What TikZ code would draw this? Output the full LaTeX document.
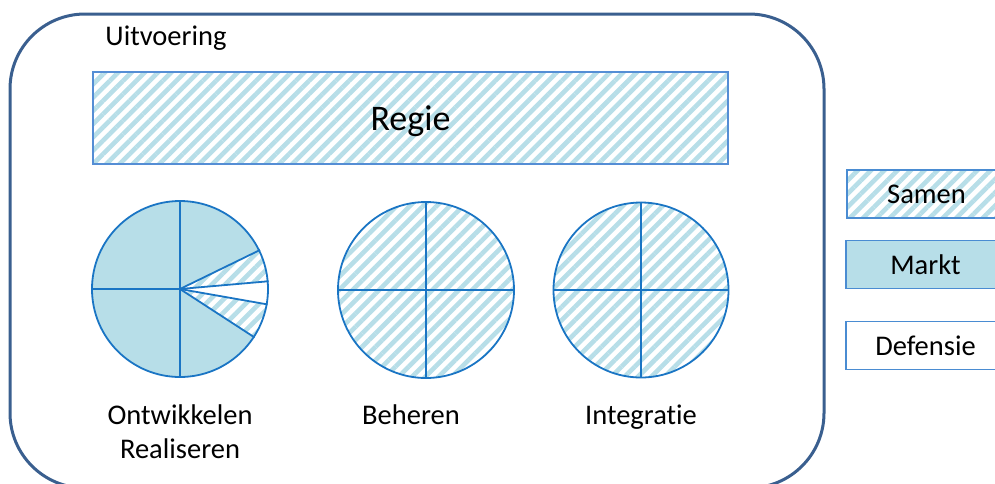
\documentclass[tikz,border=0pt]{standalone}
\usepackage{fontspec}
\setmainfont{Carlito}[Ligatures=NoCommon]
\usetikzlibrary{patterns.meta}
\definecolor{outerblue}{HTML}{3A5F8F}
\definecolor{regieblue}{HTML}{558ED5}
\definecolor{pieblue}{HTML}{1A75C4}
\definecolor{legblue}{HTML}{4A8CD2}
\definecolor{lightfill}{HTML}{B7DEE8}
\tikzset{
  hatch/.style={pattern={Lines[angle=45,distance=9.4pt,line width=4.6pt]}, pattern color=lightfill},
  lbl/.style={font=\fontsize{28.5}{34}\selectfont, align=center, inner sep=0pt},
  piecircle/.style={circle, draw=pieblue, line width=1.8pt, inner sep=0pt, minimum size=#1},
  pieline/.style={draw=pieblue, line width=1.8pt},
  legbox/.style={draw=legblue, line width=1.8pt, minimum width=159pt, minimum height=48pt, inner sep=0pt, font=\fontsize{28.5}{34}\selectfont},
}
\begin{document}
\begin{tikzpicture}[x=1pt,y=-1pt]
\useasboundingbox (0,0) rectangle (995,483);
% outer container
\draw[draw=outerblue, line width=3pt, rounded corners=75pt] (10,14) rectangle (824,488);
\node[lbl] (uitv) at (166,38) {Uitvoering};
% Regie
\node[draw=regieblue, line width=2pt, hatch, minimum width=635pt, minimum height=92pt, inner sep=0pt] (regie) at (410.5,118) {};
\node[inner sep=0pt, font=\fontsize{36}{40}\selectfont] (regietxt) at (410.5,121) {Regie};
% pie 1
\coordinate (c1) at (180,289);
\fill[lightfill] (c1) -- +(-26:88) arc[start angle=-26, end angle=-327, radius=88] -- cycle;
\fill[hatch] (c1) -- +(-5:88) arc[start angle=-5, end angle=-26, radius=88] -- cycle;
\fill[hatch] (c1) -- +(10.5:88) arc[start angle=10.5, end angle=33, radius=88] -- cycle;
\node[piecircle=176pt] (p1) at (c1) {};
\draw[pieline] (p1.north) -- (p1.south);
\draw[pieline] (p1.west) -- (p1.center);
\draw[pieline] (p1.center) -- (p1.26);
\draw[pieline] (p1.center) -- (p1.5);
\draw[pieline] (p1.center) -- (p1.-10.5);
\draw[pieline] (p1.center) -- (p1.-33);
% pie 2
\node[piecircle=176pt, hatch] (p2) at (426,290) {};
\draw[pieline] (p2.north) -- (p2.south);
\draw[pieline] (p2.west) -- (p2.east);
% pie 3
\node[piecircle=175pt, hatch] (p3) at (641,290) {};
\draw[pieline] (p3.north) -- (p3.south);
\draw[pieline] (p3.west) -- (p3.east);
% labels
\node[lbl] (l1) at (180,432) {Ontwikkelen\\Realiseren};
\node[lbl] (l2) at (411,415) {Beheren};
\node[lbl] (l3) at (641,417) {Integratie};
% legend
\node[legbox, hatch] (samen) at (926.5,194) {Samen};
\node[legbox, fill=lightfill] (markt) at (925.5,264.5) {Markt};
\node[legbox, fill=white] (def) at (925.5,345.5) {Defensie};
\end{tikzpicture}
\end{document}
